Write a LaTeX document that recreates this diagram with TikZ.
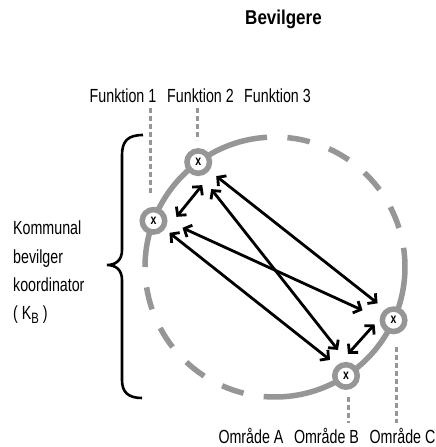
\documentclass[tikz,border=0pt]{standalone}
\usepackage{fontspec}
\setmainfont{Liberation Sans}[FakeStretch=0.75]
\newfontfamily\titlefont{Liberation Sans}[FakeStretch=0.85]
\usetikzlibrary{arrows.meta,calc}
\definecolor{ringgray}{RGB}{150,150,150}
\begin{document}
\begin{tikzpicture}[x=1pt,y=-1pt,
  ringarc/.style={draw=ringgray,line width=5.5pt},
  leaderline/.style={draw=ringgray,line width=3pt,dash pattern=on 5pt off 3pt},
  posnode/.style={circle,draw=ringgray,line width=5.5pt,fill=white,minimum size=22.5pt,inner sep=0pt,
    font=\bfseries\fontsize{14}{14}\selectfont},
  linkarrow/.style={draw=black,line width=2.8pt,
    {Straight Barb[length=6pt,width=13pt]}-{Straight Barb[length=6pt,width=13pt]}},
  lbltext/.style={font=\fontsize{19}{22}\selectfont,inner sep=0pt,anchor=base},
  sidetext/.style={font=\fontsize{19}{22}\selectfont,inner sep=0pt,anchor=base west}
]
\fill[white] (0,0) rectangle (436,447);
\useasboundingbox (0,0) rectangle (436,447);

% circle of positions: two solid arcs and dashed quarters
\coordinate (C) at (275,267);
\draw[ringarc] (C) ++(-93.5:130) arc[start angle=-93.5,end angle=-180,radius=130];
\draw[ringarc] (C) ++(-8.5:130) arc[start angle=-8.5,end angle=95,radius=130];
\foreach \a in {-84.5,-65.5,-46.5,-27.5,104,123,142,161}
  \draw[ringarc] (C) ++(\a:130) arc[start angle=\a,end angle=\a+10,radius=130];

% leader lines to the labels
\draw[leaderline] (150,108) -- (150,195);
\draw[leaderline] (197,108) -- (197,140);
\draw[leaderline] (348,397) -- (348,423);
\draw[leaderline] (396,347) -- (396,423);

% position nodes
\node[posnode] (U) at ($(C)+(-126.2:130)$) {x};
\node[posnode] (L) at ($(C)+(-159.2:130)$) {x};
\node[posnode] (R) at ($(C)+(24.2:130)$) {x};
\node[posnode] (B) at ($(C)+(56.9:130)$) {x};

% links between positions
\draw[linkarrow] ([shift={(4,23)}]U.center) -- ([shift={(23,-4)}]L.center);
\draw[linkarrow] ([shift={(18,14)}]U.center) -- ([shift={(-16,-17)}]R.center);
\draw[linkarrow] ([shift={(13,27)}]U.center) -- ([shift={(-8,-26)}]B.center);
\draw[linkarrow] ([shift={(29,7)}]L.center) -- ([shift={(-31,-10)}]R.center);
\draw[linkarrow] ([shift={(16,12)}]L.center) -- ([shift={(-16,-16)}]B.center);
\draw[linkarrow] ([shift={(-19,4)}]R.center) -- ([shift={(2,-22)}]B.center);

% brace
\draw[line width=2.6pt] (143,135) .. controls (128,135) and (122,141) .. (122,155) -- (122,250)
  .. controls (122,260) and (116,265) .. (107,265)
  .. controls (116,265) and (122,270) .. (122,280) -- (122,380)
  .. controls (122,392) and (128,398) .. (142,398);

% texts
\node[font=\titlefont\bfseries\fontsize{20}{22}\selectfont,inner sep=0pt,anchor=base] (title) at (283.5,24) {Bevilgere};
\node[lbltext] (f1) at (123,102) {Funktion 1};
\node[lbltext] (f2) at (200.5,102) {Funktion 2};
\node[lbltext] (f3) at (277.5,102) {Funktion 3};
\node[lbltext] (oA) at (251,443) {Område A};
\node[lbltext] (oB) at (326.5,443) {Område B};
\node[lbltext] (oC) at (402.5,443) {Område C};
\node[sidetext] (k1) at (13,234) {Kommunal};
\node[sidetext] (k2) at (13,263) {bevilger};
\node[sidetext] (k3) at (13,291) {koordinator};
\node[sidetext] (k4) at (13,319) {( K\raisebox{-0.4ex}{\fontsize{15}{15}\selectfont B} )};
\end{tikzpicture}
\end{document}
